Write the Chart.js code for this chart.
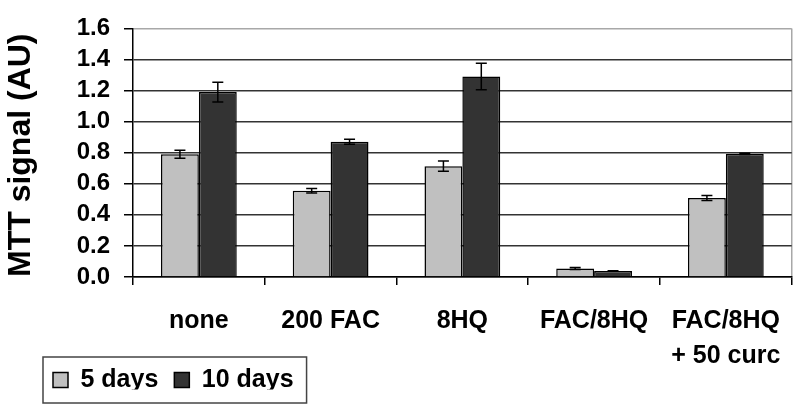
<!DOCTYPE html>
<html>
<head>
<meta charset="utf-8">
<script src="https://cdn.jsdelivr.net/npm/chart.js@4/dist/chart.umd.min.js"></script>
<style>
    html, body { margin: 0; padding: 0; background: #fff; }
    #wrap { width: 800px; height: 410px; position: relative; }
</style>
</head>
<body>
<div id="wrap"><canvas id="mtt-chart"></canvas></div>
<script>
// --- Data ---
const categories = ['none', '200 FAC', '8HQ', 'FAC/8HQ', ['FAC/8HQ', '+ 50 curc']];
const days5 = [0.79, 0.555, 0.713, 0.055, 0.509];
const days10 = [1.19, 0.871, 1.29, 0.039, 0.793];
const err5 = [0.026, 0.014, 0.033, 0.006, 0.016];
const err10 = [0.063, 0.016, 0.085, 0.002, 0.004];
const yTicks = [0, 0.2, 0.4, 0.6, 0.8, 1.0, 1.2, 1.4, 1.6];

const FONT = "'Liberation Sans', Arial, sans-serif";
Chart.defaults.font.family = FONT;
Chart.defaults.color = '#000';

// --- Error bars drawn from the y scale ---
const errorBars = {
    id: 'errorBars',
    afterDatasetsDraw(chart) {
        const ctx = chart.ctx;
        const y = chart.scales.y;
        ctx.save();
        ctx.strokeStyle = '#000';
        ctx.lineWidth = 1.5;
        chart.data.datasets.forEach((ds, di) => {
            const meta = chart.getDatasetMeta(di);
            meta.data.forEach((bar, i) => {
                const v = ds.data[i];
                const e = ds.errors[i];
                const top = y.getPixelForValue(v + e);
                const bot = y.getPixelForValue(v - e);
                ctx.beginPath();
                ctx.moveTo(bar.x, top);
                ctx.lineTo(bar.x, bot);
                ctx.moveTo(bar.x - 5.5, top);
                ctx.lineTo(bar.x + 5.5, top);
                ctx.moveTo(bar.x - 5.5, bot);
                ctx.lineTo(bar.x + 5.5, bot);
                ctx.stroke();
            });
        });
        ctx.restore();
    }
};

// --- Legend sits beside the two-line label, then gets a frame ---
const legendFrame = {
    id: 'legendFrame',
    afterLayout(chart) {
        const lg = chart.legend;
        const h = lg.bottom - lg.top;
        lg.top = 351.5;
        lg.bottom = lg.top + h;
    },
    afterDraw(chart) {
        const boxes = chart.legend.legendHitBoxes;
        if (!boxes || !boxes.length) return;
        const first = boxes[0];
        const last = boxes[boxes.length - 1];
        const mid = first.top + first.height / 2;
        const ctx = chart.ctx;
        ctx.save();
        ctx.strokeStyle = '#444';
        ctx.lineWidth = 1.5;
        ctx.strokeRect(first.left - 10, mid - 23, last.left + last.width + 13 - (first.left - 10), 46);
        ctx.restore();
    }
};

new Chart(document.getElementById('mtt-chart'), {
    type: 'bar',
    data: {
        labels: categories,
        datasets: [
            {
                label: '5 days',
                data: days5,
                errors: err5,
                backgroundColor: '#c0c0c0',
                borderColor: '#000',
                borderWidth: 1.5,
                categoryPercentage: 0.575,
                barPercentage: 1.0
            },
            {
                label: '10 days',
                data: days10,
                errors: err10,
                backgroundColor: '#333333',
                borderColor: '#000',
                borderWidth: 1.5,
                categoryPercentage: 0.575,
                barPercentage: 1.0
            }
        ]
    },
    options: {
        responsive: true,
        maintainAspectRatio: false,
        animation: false,
        layout: { padding: { left: 37, right: 6, top: 16, bottom: 0 } },
        plugins: {
            tooltip: { enabled: false },
            legend: {
                position: 'bottom',
                align: 'start',
                maxHeight: 38,
                labels: {
                    boxWidth: 15,
                    boxHeight: 15,
                    padding: 16,
                    color: '#000',
                    font: { size: 25, weight: 'bold', lineHeight: 1 }
                }
            }
        },
        scales: {
            x: {
                afterFit(scale) { scale.height = 95; },
                border: { display: true, color: '#000', width: 1.5 },
                grid: {
                    offset: true,
                    drawTicks: true,
                    tickLength: 8,
                    tickColor: '#000',
                    tickWidth: 1.5,
                    lineWidth: 1.5,
                    color: ctx => ctx.type === 'tick' ? 'rgba(0,0,0,0)' : '#a8a8a8'
                },
                ticks: {
                    padding: 19,
                    maxRotation: 0,
                    autoSkip: false,
                    color: '#000',
                    font: { size: 25, weight: 'bold', lineHeight: 1.4 }
                }
            },
            y: {
                min: 0,
                max: 1.6,
                afterFit(scale) { scale.width = 96; },
                afterBuildTicks(scale) { scale.ticks = yTicks.map(v => ({ value: v })); },
                border: { display: true, color: '#000', width: 1.5 },
                grid: {
                    drawTicks: true,
                    tickLength: 9,
                    tickColor: '#000',
                    tickWidth: 1.5,
                    lineWidth: 1.5,
                    color: ctx => (ctx.tick && ctx.tick.value === 1.6) ? '#a8a8a8' : '#333'
                },
                ticks: {
                    autoSkip: false,
                    padding: 14,
                    color: '#000',
                    font: { size: 24, weight: 'bold' },
                    callback: v => Number(v).toFixed(1)
                },
                title: {
                    display: true,
                    text: 'MTT signal (AU)',
                    align: 'start',
                    color: '#000',
                    padding: { top: -31.5, bottom: 0 },
                    font: { size: 32, weight: 'bold', lineHeight: 1 }
                }
            }
        }
    },
    plugins: [errorBars, legendFrame]
});
</script>
</body>
</html>
